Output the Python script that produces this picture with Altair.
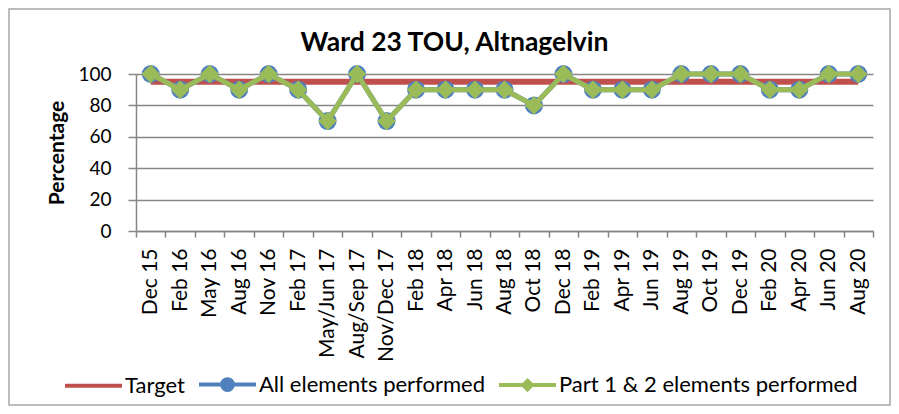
import altair as alt
import pandas as pd

categories = ["Dec 15", "Feb 16", "May 16", "Aug 16", "Nov 16", "Feb 17", "May/Jun 17",
              "Aug/Sep 17", "Nov/Dec 17", "Feb 18", "Apr 18", "Jun 18", "Aug 18", "Oct 18",
              "Dec 18", "Feb 19", "Apr 19", "Jun 19", "Aug 19", "Oct 19", "Dec 19", "Feb 20",
              "Apr 20", "Jun 20", "Aug 20"]
target = [95] * 25
all_elements = [100, 90, 100, 90, 100, 90, 70, 100, 70, 90, 90, 90, 90, 80, 100,
                90, 90, 90, 100, 100, 100, 90, 90, 100, 100]
part12 = [100, 90, 100, 90, 100, 90, 70, 100, 70, 90, 90, 90, 90, 80, 100,
          90, 90, 90, 100, 100, 100, 90, 90, 100, 100]
series_names = ["Target", "All elements performed", "Part 1 & 2 elements performed"]
series_colors = ["#C0504D", "#4F81BD", "#9BBB59"]
y_ticks = [0, 20, 40, 60, 80, 100]

rows = []
for name, vals in zip(series_names, [target, all_elements, part12]):
    for c, v in zip(categories, vals):
        rows.append({"category": c, "series": name, "value": v})
df = pd.DataFrame(rows)

FONT = "Lato"
GRID = "#868686"

x_enc = alt.X("category:N", sort=categories,
              scale=alt.Scale(paddingInner=0, paddingOuter=0),
              axis=alt.Axis(title=None, labelAngle=-90, labelAlign="right", labelBaseline="middle",
                            labelFont=FONT, labelFontSize=21, labelColor="#000000",
                            labelPadding=11, tickSize=6, tickColor=GRID, tickWidth=1.5,
                            domainColor=GRID, domainWidth=1.5, tickBand="extent",
                            grid=False, labelOverlap=False))
y_enc = alt.Y("value:Q", scale=alt.Scale(domain=[0, 100], nice=False),
              axis=alt.Axis(title="Percentage", values=y_ticks, titleFont=FONT,
                            titleFontSize=21, titleFontWeight="bold", titleColor="#000000",
                            titlePadding=10, labelFont=FONT, labelFontSize=19,
                            labelColor="#000000", labelPadding=17, tickSize=8,
                            tickColor=GRID, tickWidth=1.5, domainColor=GRID, domainWidth=1.5,
                            gridColor=GRID, gridWidth=1.5))

shape_expr = ("datum.value == 'Target' ? 'M-1,0H1' : "
              "datum.value == 'All elements performed' ? "
              "'M-1,0H1M-0.19,0A0.19,0.19,0,1,1,0.19,0A0.19,0.19,0,1,1,-0.19,0Z' : "
              "'M-1,0H1M-0.15,0L0,-0.15L0.15,0L0,0.15Z'")
color_expr = ("datum.value == 'Target' ? '#C0504D' : "
              "datum.value == 'All elements performed' ? '#4F81BD' : '#9BBB59'")

color_enc = alt.Color("series:N",
                      scale=alt.Scale(domain=series_names, range=series_colors),
                      legend=alt.Legend(title=None, orient="none", direction="horizontal",
                                        legendX=-73, legendY=280,
                                        labelFont=FONT, labelFontSize=22, labelColor="#000000",
                                        labelLimit=0,
                                        symbolSize=3249, symbolStrokeWidth=4,
                                        symbolType=alt.ExprRef(expr=shape_expr),
                                        symbolFillColor=alt.ExprRef(expr=color_expr),
                                        symbolStrokeColor=alt.ExprRef(expr=color_expr),
                                        symbolOpacity=1,
                                        labelOffset=1, columnPadding=6))

base = alt.Chart(df).encode(x=x_enc, y=y_enc)

target_line = base.transform_filter(alt.datum.series == "Target").mark_line(
    strokeWidth=6).encode(color=color_enc)
all_line = base.transform_filter(alt.datum.series == "All elements performed").mark_line(
    strokeWidth=5).encode(color=color_enc)
all_pts = base.transform_filter(alt.datum.series == "All elements performed").mark_point(
    shape="circle", filled=True, size=324, opacity=1, color="#4F81BD")
part_line = base.transform_filter(alt.datum.series == "Part 1 & 2 elements performed").mark_line(
    strokeWidth=5).encode(color=color_enc)
part_pts = base.transform_filter(alt.datum.series == "Part 1 & 2 elements performed").mark_point(
    shape="diamond", filled=True, size=340, opacity=1, color="#9BBB59")

frame = alt.Chart(pd.DataFrame({"f": [0]})).mark_rect(
    filled=False, stroke="#A6A6A6", strokeWidth=1.5).encode(
    x=alt.value(-127), x2=alt.value(754), y=alt.value(-65), y2=alt.value(331))

chart = alt.layer(frame, target_line, all_line, all_pts, part_line, part_pts).properties(
    width=737, height=157,
    autosize=alt.AutoSizeParams(type="none"),
    padding={"left": 128, "top": 66, "right": 18, "bottom": 175},
    title=alt.TitleParams("Ward 23 TOU, Altnagelvin", font=FONT, fontSize=26.5,
                          fontWeight="bold", color="#000000", anchor="middle",
                          frame="group", baseline="alphabetic",
                          dx=-50, offset=-69),
).configure_view(stroke=None)

chart.save("out.html", embed_options={"renderer": "svg", "actions": False})
